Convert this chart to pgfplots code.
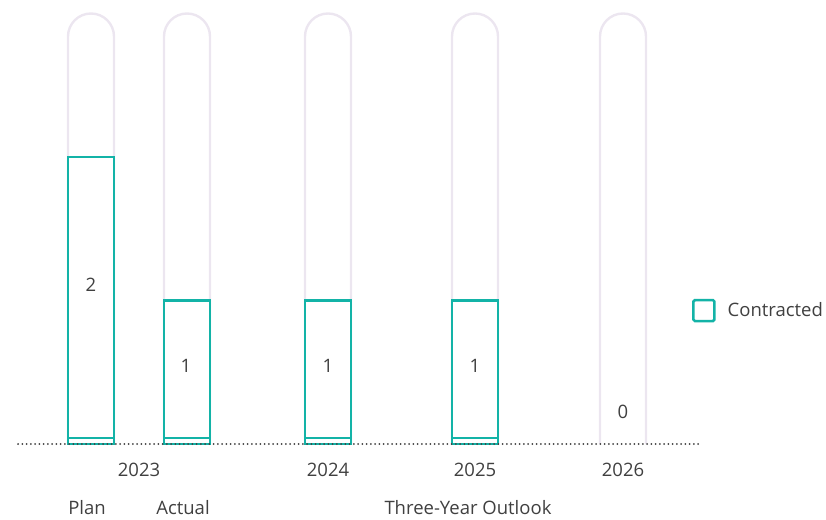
\documentclass[border=0pt]{standalone}
\usepackage{pgfplots}
\pgfplotsset{compat=1.18}
\usepackage{fontspec}
\setmainfont{Open Sans}
\definecolor{teal1}{HTML}{13B3A7}
\definecolor{pill}{HTML}{ECE6F0}
\definecolor{txt}{HTML}{404040}
\begin{document}
\begin{tikzpicture}[lbl/.style={font=\fontsize{18.5bp}{22bp}\selectfont, text=txt, inner sep=0pt}]
\begin{axis}[
  scale only axis, width=826bp, height=520bp,
  xmin=0, xmax=826, ymin=-0.5296, ymax=3.0941,
  hide axis, clip=false,
  legend style={at={(axis cs:692,0.93)}, anchor=west, draw=none, fill=none, inner sep=0pt,
    nodes={inner sep=0pt, text=txt, font=\fontsize{18.5bp}{22bp}\selectfont}},
  legend cell align=left,
]
% background pills
\addplot[pill, line width=2.4bp, rounded corners=23bp, forget plot] coordinates {(68,0) (68,3) (114,3) (114,0)};
\addplot[pill, line width=2.4bp, rounded corners=23bp, forget plot] coordinates {(164,0) (164,3) (210,3) (210,0)};
\addplot[pill, line width=2.4bp, rounded corners=23bp, forget plot] coordinates {(305,0) (305,3) (351,3) (351,0)};
\addplot[pill, line width=2.4bp, rounded corners=23bp, forget plot] coordinates {(452,0) (452,3) (498,3) (498,0)};
\addplot[pill, line width=2.4bp, rounded corners=23bp, forget plot] coordinates {(600,0) (600,3) (646,3) (646,0)};
% bars
\addplot[ybar, bar width=46, bar shift=0pt, draw=teal1, fill=white, line width=2.6bp,
  legend image code/.code={\draw[teal1, line width=2.5bp, fill=white, rounded corners=1.5bp] (0bp,-10.5bp) rectangle (21bp,10.5bp);}]
  coordinates {(91,2) (187,1) (328,1) (475,1)};
\addlegendentry{\hspace{12bp}Contracted}
\addplot[ybar, bar width=46, bar shift=0pt, draw=teal1, fill=none, line width=1.6bp, forget plot]
  coordinates {(91,0.042) (187,0.042) (328,0.042) (475,0.042)};
% baseline
\addplot[txt, line width=2bp, dash pattern=on 0bp off 4.25bp, line cap=round, forget plot]
  coordinates {(18,0) (698,0)};
% value labels
\node[lbl] at (axis cs:91,1.108) {2};
\node[lbl] at (axis cs:186,0.544) {1};
\node[lbl] at (axis cs:328,0.544) {1};
\node[lbl] at (axis cs:475,0.544) {1};
\node[lbl] at (axis cs:623,0.223) {0};
% year labels
\node[lbl] at (axis cs:139,-0.181) {2023};
\node[lbl] at (axis cs:328,-0.181) {2024};
\node[lbl] at (axis cs:475,-0.181) {2025};
\node[lbl] at (axis cs:623,-0.181) {2026};
% group labels
\node[lbl] at (axis cs:87,-0.446) {Plan};
\node[lbl] at (axis cs:183,-0.446) {Actual};
\node[lbl] at (axis cs:468,-0.446) {Three-Year Outlook};
\end{axis}
\pgfresetboundingbox
\useasboundingbox (current axis.south west) rectangle (current axis.north east);
\end{tikzpicture}
\end{document}
